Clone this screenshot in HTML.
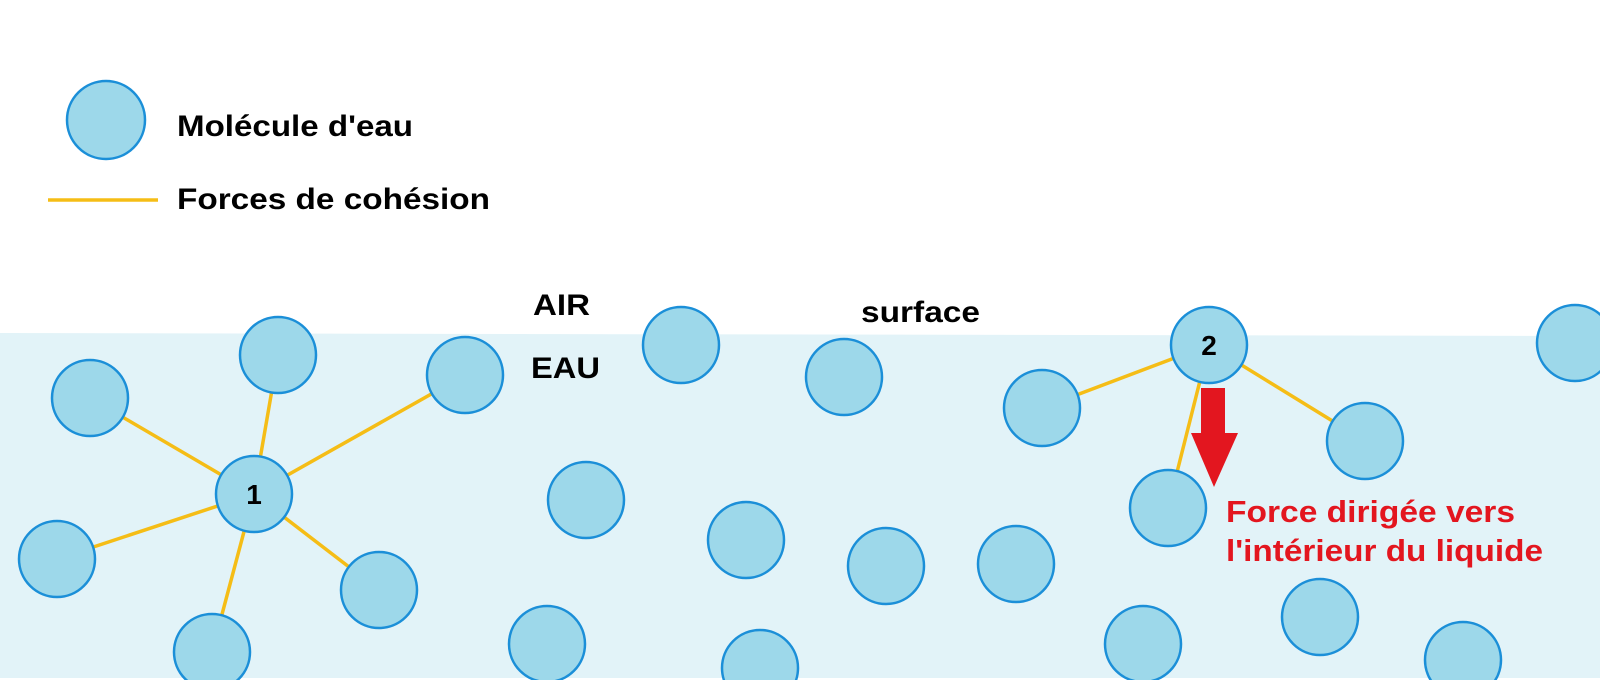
<!DOCTYPE html>
<html><head><meta charset="utf-8"><style>
html,body{margin:0;padding:0;background:#fff;width:1600px;height:680px;overflow:hidden}
svg{display:block}
text{font-family:"Liberation Sans",Arial,sans-serif;font-weight:bold}
</style></head><body>
<svg width="1600" height="680" viewBox="0 0 1600 680">
<polygon points="0,333 1600,336 1600,678 0,678" fill="#e2f3f8"/>
<g id="links" stroke="#f5bd16" stroke-width="3.5"></g>
<g id="mols"></g>
<line x1="48" y1="200" x2="158" y2="200" stroke="#f5bd16" stroke-width="3.5"/>
<text x="177" y="136" font-size="30" textLength="236" lengthAdjust="spacingAndGlyphs">Molécule d'eau</text>
<text x="177" y="209" font-size="30" textLength="313" lengthAdjust="spacingAndGlyphs">Forces de cohésion</text>
<text x="533" y="315" font-size="30" textLength="57" lengthAdjust="spacingAndGlyphs">AIR</text>
<text x="531" y="378" font-size="30" textLength="69" lengthAdjust="spacingAndGlyphs">EAU</text>
<text x="861" y="322" font-size="30" textLength="119" lengthAdjust="spacingAndGlyphs">surface</text>
<polygon points="1201,388 1225,388 1225,433 1238,433 1214,487 1191,433 1201,433" fill="#e3161f"/>
<text x="1226" y="522" font-size="31" fill="#e3161f" textLength="289" lengthAdjust="spacingAndGlyphs">Force dirigée vers</text>
<text x="1226" y="561" font-size="31" fill="#e3161f" textLength="317" lengthAdjust="spacingAndGlyphs">l'intérieur du liquide</text>
</svg>
<script>
const molX=[106,254,90,278,465,57,379,212,681,844,586,746,886,1016,547,760,1209,1042,1365,1168,1143,1320,1463,1575];
const molY=[120,494,398,355,375,559,590,652,345,377,500,540,566,564,644,668,345,408,441,508,644,617,660,343];
const molLabel={1:"1",16:"2"};
const linkFrom=[1,1,1,1,1,1,16,16,16];
const linkTo=[2,3,4,5,6,7,17,18,19];
const NS="http://www.w3.org/2000/svg";
const links=document.getElementById('links');
for(let i=0;i<linkFrom.length;i++){
  const l=document.createElementNS(NS,'line');
  l.setAttribute('x1',molX[linkFrom[i]]);l.setAttribute('y1',molY[linkFrom[i]]);
  l.setAttribute('x2',molX[linkTo[i]]);l.setAttribute('y2',molY[linkTo[i]]);
  
  
  links.appendChild(l);
}
const mols=document.getElementById('mols');
for(let i=0;i<molX.length;i++){
  const c=document.createElementNS(NS,'circle');
  c.setAttribute('cx',molX[i]);c.setAttribute('cy',molY[i]);c.setAttribute('r',i===0?39:38);
  c.setAttribute('fill','#9dd8ea');c.setAttribute('stroke','#1b8fd8');c.setAttribute('stroke-width','2.5');
  
  
  mols.appendChild(c);
  if(molLabel[i]){
    const t=document.createElementNS(NS,'text');
    t.setAttribute('x',molX[i]);t.setAttribute('y',molY[i]+10);t.setAttribute('font-size','28');t.setAttribute('text-anchor','middle');
    t.textContent=molLabel[i];
    
    
    mols.appendChild(t);
  }
}
</script>
</body></html>
